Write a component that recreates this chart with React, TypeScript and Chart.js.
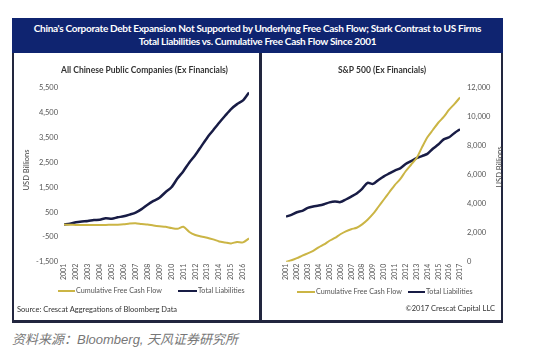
import React, { useEffect, useRef } from 'react';
import { Chart, registerables } from 'chart.js';

Chart.register(...registerables);

const FONT = 'Lato, "Open Sans", "DejaVu Sans", sans-serif';
const FCF_COLOR = '#cbb545';
const LIAB_COLOR = '#181c45';
const TICK_COLOR = '#555555';

// ---- China (All Chinese Public Companies, ex Financials), USD billions ----
const chinaPeriods = [
  2001, 2001.5, 2002, 2002.5, 2003, 2003.5, 2004, 2004.5, 2005, 2005.5, 2006, 2006.5,
  2007, 2007.5, 2008, 2008.5, 2009, 2009.5, 2010, 2010.5, 2011, 2011.5, 2012, 2012.5,
  2013, 2013.5, 2014, 2014.5, 2015, 2015.5, 2016, 2016.5,
];
const chinaFreeCashFlow = [
  0, -10, -15, -15, -20, -20, -20, -15, -10, -5, 10, 40,
  50, 20, 0, -40, -70, -90, -140, -170, -90, -300, -420, -480,
  -530, -600, -680, -720, -760, -700, -720, -560,
];
const chinaLiabilities = [
  0, 30, 90, 120, 140, 180, 195, 250, 230, 290, 330, 400,
  480, 620, 800, 950, 1080, 1300, 1500, 1850, 2150, 2500, 2800, 3150,
  3500, 3800, 4100, 4380, 4650, 4850, 5000, 5320,
];
const chinaYearTicks = [
  2001, 2002, 2003, 2004, 2005, 2006, 2007, 2008, 2009, 2010, 2011, 2012, 2013, 2014, 2015, 2016,
];
const chinaValueTicks = [-1500, -500, 500, 1500, 2500, 3500, 4500, 5500];

// ---- S&P 500 (ex Financials), USD billions ----
const usPeriods = [
  2001, 2001.5, 2002, 2002.5, 2003, 2003.5, 2004, 2004.5, 2005, 2005.5, 2006, 2006.5,
  2007, 2007.5, 2008, 2008.5, 2009, 2009.5, 2010, 2010.5, 2011, 2011.5, 2012, 2012.5,
  2013, 2013.5, 2014, 2014.5, 2015, 2015.5, 2016, 2016.5, 2017,
];
const usFreeCashFlow = [
  0, 100, 250, 420, 580, 750, 1000, 1200, 1450, 1650, 1900, 2100,
  2250, 2350, 2580, 2900, 3300, 3800, 4300, 4800, 5300, 5700, 6250, 6700,
  7150, 7900, 8600, 9100, 9600, 10000, 10500, 10900, 11350,
];
const usLiabilities = [
  3120, 3240, 3420, 3520, 3720, 3820, 3880, 3970, 4100, 4160, 4120, 4300,
  4500, 4720, 5040, 5450, 5380, 5650, 5900, 6100, 6300, 6450, 6750, 6950,
  7150, 7300, 7450, 7800, 8100, 8450, 8600, 8900, 9150,
];
const usYearTicks = [
  2001, 2002, 2003, 2004, 2005, 2006, 2007, 2008, 2009, 2010, 2011, 2012, 2013, 2014, 2015, 2016, 2017,
];
const usValueTicks = [0, 2000, 4000, 6000, 8000, 10000, 12000];

const SERIES_LABELS = ['Cumulative Free Cash Flow', 'Total Liabilities'];
const SERIES_COLORS = [FCF_COLOR, LIAB_COLOR];
const SERIES_WIDTHS = [2, 2.5];

function points(xs: number[], ys: number[]) {
  return xs.map((x, i) => ({ x, y: ys[i] }));
}

function datasets(xs: number[], fcf: number[], liab: number[]) {
  return [fcf, liab].map((ys, i) => ({
    label: SERIES_LABELS[i],
    data: points(xs, ys),
    borderColor: SERIES_COLORS[i],
    backgroundColor: SERIES_COLORS[i],
    borderWidth: SERIES_WIDTHS[i],
    pointRadius: 0,
    tension: 0.25,
  }));
}

const noGrid = { display: false, drawTicks: false };
const noBorder = { display: false };

function baseXAxis(min: number, max: number, ticks: number[]) {
  return {
    type: 'linear',
    min,
    max,
    afterBuildTicks: (s: any) => {
      s.ticks = ticks.map((v) => ({ value: v }));
    },
    ticks: {
      autoSkip: false,
      minRotation: 90,
      maxRotation: 90,
      padding: 2,
      color: TICK_COLOR,
      font: { family: FONT, size: 7 },
      callback: (v: any) => String(v),
    },
    grid: noGrid,
    border: noBorder,
  };
}

function baseYAxis(min: number, max: number, ticks: number[], position: string, width: number, pad: number) {
  return {
    type: 'linear',
    position,
    min,
    max,
    afterBuildTicks: (s: any) => {
      s.ticks = ticks.map((v) => ({ value: v }));
    },
    afterFit: (s: any) => {
      s.width = width;
    },
    ticks: {
      padding: pad,
      color: TICK_COLOR,
      font: { family: FONT, size: 7.5 },
      callback: (v: any) => Number(v).toLocaleString('en-US'),
    },
    grid: noGrid,
    border: noBorder,
  };
}

// empty axis used only to reserve horizontal room next to the plot
function spacerAxis(position: string, width: number) {
  return {
    type: 'linear',
    position,
    display: true,
    ticks: { display: false },
    grid: noGrid,
    border: noBorder,
    afterFit: (s: any) => {
      s.width = width;
    },
  };
}

function plugins(title: string) {
  return {
    title: {
      display: true,
      text: title,
      color: '#333333',
      font: { family: FONT, size: 8.5, weight: 'bold' },
      padding: { top: 10, bottom: 12.8 },
    },
    legend: { display: false },
    tooltip: { enabled: false },
  };
}

function chinaConfig(): any {
  return {
    type: 'line',
    data: { datasets: datasets(chinaPeriods, chinaFreeCashFlow, chinaLiabilities) },
    options: {
      responsive: false,
      animation: false,
      layout: { padding: { left: 0, right: 0, top: 0, bottom: 6 } },
      plugins: plugins('All Chinese Public Companies (Ex Financials)'),
      scales: {
        x: baseXAxis(2001, 2016.5, chinaYearTicks),
        y: baseYAxis(-1500, 5500, chinaValueTicks, 'left', 34, 6),
        pad: spacerAxis('right', 10),
      },
    },
  };
}

function usConfig(): any {
  return {
    type: 'line',
    data: { datasets: datasets(usPeriods, usFreeCashFlow, usLiabilities) },
    options: {
      responsive: false,
      animation: false,
      layout: { padding: { left: 0, right: 0, top: 0, bottom: 6 } },
      plugins: plugins('S&P 500 (Ex Financials)'),
      scales: {
        x: baseXAxis(2001, 2017, usYearTicks),
        y: baseYAxis(0, 12000, usValueTicks, 'right', 41, 7),
        pad: spacerAxis('left', 23),
      },
    },
  };
}

function ChartCanvas({ make, left, top, width, height }: any) {
  const ref = useRef<HTMLCanvasElement>(null);
  useEffect(() => {
    const chart = new Chart(ref.current as HTMLCanvasElement, make());
    return () => chart.destroy();
  }, []);
  return (
    <canvas
      ref={ref}
      width={width}
      height={height}
      style={{ position: 'absolute', left, top, width, height }}
    />
  );
}

const abs = (s: any) => ({ position: 'absolute', ...s });

// legend: [lineLeft, lineWidth] pairs for the two series (text follows each line)
function Legend({ top, items }: { top: number; items: number[][] }) {
  return (
    <>
      {items.map(([x, w], i) => (
        <React.Fragment key={i}>
          <div
            style={abs({
              left: x,
              top: top - SERIES_WIDTHS[i] / 2,
              width: w,
              height: SERIES_WIDTHS[i],
              background: SERIES_COLORS[i],
            })}
          />
          <div
            style={abs({
              left: x + w + 1,
              top: top - 6,
              lineHeight: '12px',
              fontFamily: FONT,
              fontSize: 7.2,
              color: '#555',
              whiteSpace: 'nowrap',
            })}
          >
            {SERIES_LABELS[i]}
          </div>
        </React.Fragment>
      ))}
    </>
  );
}

export default function App() {
  const axisTitle = {
    fontFamily: FONT,
    fontSize: 7.5,
    color: '#444',
    whiteSpace: 'nowrap',
    width: 60,
    textAlign: 'center',
    lineHeight: '10px',
    transform: 'rotate(-90deg)',
  };
  return (
    <div style={abs({ left: 0, top: 0, width: 534, height: 353, background: '#fff', overflow: 'hidden' })}>
      {/* frame */}
      <div style={abs({ left: 12, top: 18, width: 491, height: 305, background: '#22263f' })} />
      <div style={abs({ left: 12, top: 18, width: 491, height: 35, background: '#0f2470' })} />
      <div style={abs({ left: 14, top: 53, width: 245, height: 267, background: '#fff' })} />
      <div style={abs({ left: 262, top: 53, width: 239, height: 267, background: '#fff' })} />
      <div
        style={abs({
          left: 12,
          top: 22,
          width: 491,
          textAlign: 'center',
          color: '#fff',
          fontFamily: FONT,
          fontWeight: 'bold',
          fontSize: 10,
          letterSpacing: '-0.3px',
          lineHeight: '13px',
          whiteSpace: 'nowrap',
        })}
      >
        China's Corporate Debt Expansion Not Supported by Underlying Free Cash Flow; Stark Contrast to US Firms
        <br />
        Total Liabilities vs. Cumulative Free Cash Flow Since 2001
      </div>

      <ChartCanvas make={chinaConfig} left={30} top={55} width={229} height={233} />
      <ChartCanvas make={usConfig} left={263} top={55} width={238} height={233} />

      <div style={abs({ ...axisTitle, left: 27 - 30, top: 170 - 5 })}>USD Billions</div>
      <div style={abs({ ...axisTitle, left: 500 - 30, top: 167 - 5 })}>USD Billions</div>

      <Legend top={291} items={[[58, 17], [178, 19]]} />
      <Legend top={292} items={[[297, 18], [408, 17]]} />

      <div style={abs({ left: 17, top: 305, fontFamily: FONT, fontSize: 7.5, color: '#333', whiteSpace: 'nowrap' })}>
        Source: Crescat Aggregations of Bloomberg Data
      </div>
      <div style={abs({ right: 534 - 495, top: 304, fontFamily: FONT, fontSize: 7.5, color: '#333', whiteSpace: 'nowrap' })}>
        ©2017 Crescat Capital LLC
      </div>

      <div
        style={abs({
          left: 12,
          top: 329,
          fontFamily: '"Liberation Sans", "Noto Sans CJK SC", sans-serif',
          fontStyle: 'italic',
          fontSize: 13,
          color: '#777',
          whiteSpace: 'nowrap',
        })}
      >
        资料来源：Bloomberg, 天风证券研究所
      </div>
    </div>
  );
}
